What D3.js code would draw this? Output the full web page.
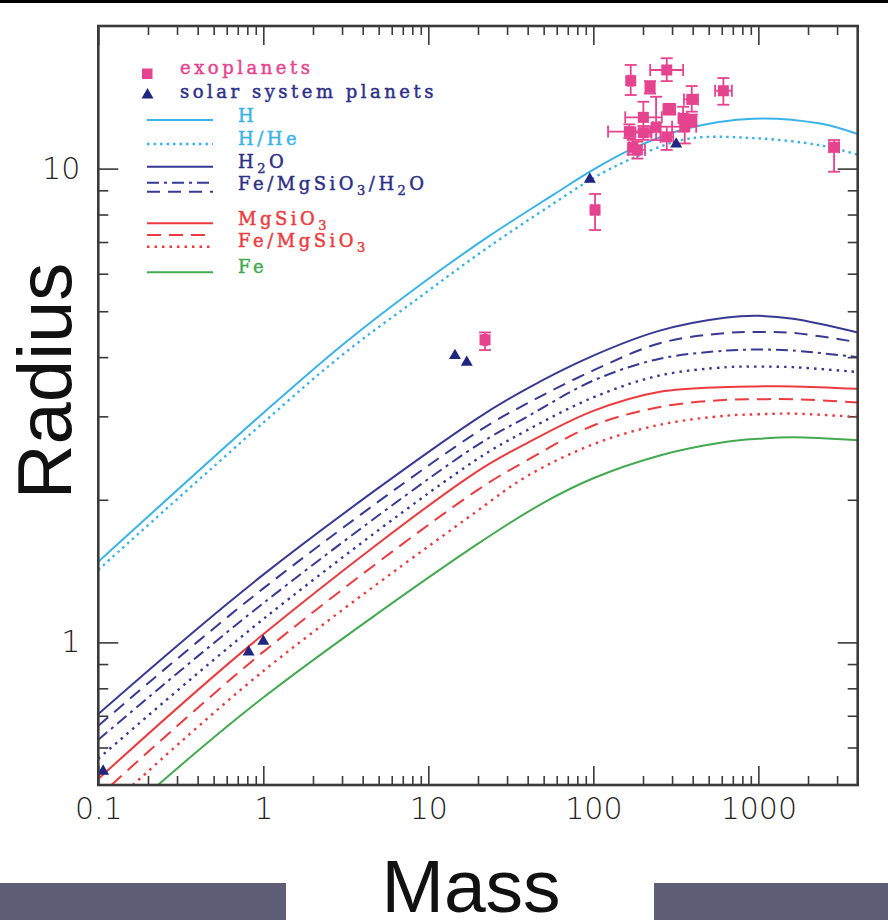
<!DOCTYPE html>
<html><head><meta charset="utf-8">
<script src="https://cdn.jsdelivr.net/npm/d3@7/dist/d3.min.js"></script>
<style>body{margin:0;background:#fff}svg{display:block}</style>
</head><body>
<svg id="chart" width="888" height="920"></svg>
<script>
// ---------- data ----------
const xTickValues = [0.1, 1, 10, 100, 1000];
const xTickLabels = ["0.1", "1", "10", "100", "1000"];
const yTickValues = [1, 10];
const yTickLabels = ["1", "10"];

// theoretical mass–radius curves (mass in Earth masses, radius in Earth radii)
const massH      = [0.1, 1, 3, 8.9, 22.6, 57, 100, 174, 368, 929, 2366, 4000];
const radiusH    = [1.48, 3.05, 4.24, 5.68, 7.15, 8.8, 9.95, 11.03, 12.15, 12.75, 12.45, 11.83];
const massHHe    = [0.1, 1, 3, 8.9, 22.6, 57, 100, 174, 368, 929, 2366, 4000];
const radiusHHe  = [1.423, 2.91, 4.04, 5.36, 6.79, 8.43, 9.55, 10.53, 11.55, 11.6, 11.2, 10.7];

const massRock   = [0.1, 1, 19.2, 39.4, 100, 253, 643, 1000, 1622, 4000];
const radiusH2O            = [0.706, 1.39, 2.95, 3.43, 4.03, 4.55, 4.85, 4.89, 4.82, 4.51];
const radiusFeMgH2Odash    = [0.667, 1.30, 2.76, 3.19, 3.75, 4.28, 4.50, 4.52, 4.50, 4.30];
const radiusFeMgH2Odashdot = [0.623, 1.21, 2.59, 2.99, 3.57, 3.97, 4.13, 4.15, 4.13, 4.00];
const radiusFeMgH2Odot     = [0.568, 1.12, 2.42, 2.80, 3.29, 3.66, 3.81, 3.82, 3.81, 3.72];
const radiusMgSiO3         = [0.515, 1.04, 2.28, 2.63, 3.08, 3.38, 3.46, 3.47, 3.47, 3.43];
const massFeMgDash   = [0.12, 1, 19.2, 39.4, 100, 253, 643, 1000, 1622, 4000];
const radiusFeMgDash = [0.5, 0.955, 2.08, 2.42, 2.87, 3.14, 3.25, 3.26, 3.26, 3.21];
const massFeMgDot    = [0.162, 1, 19.2, 39.4, 100, 253, 643, 1000, 1622, 4000];
const radiusFeMgDot  = [0.5, 0.87, 1.88, 2.24, 2.62, 2.88, 3.01, 3.03, 3.04, 2.99];
const massFe     = [0.23, 1, 19.2, 49.8, 100, 253, 643, 1000, 1622, 4000];
const radiusFe   = [0.5, 0.765, 1.60, 1.97, 2.22, 2.48, 2.65, 2.69, 2.71, 2.67];

// exoplanets with error ranges
const exoMass    = [168.5, 278.5, 220.6, 613.7, 394.8, 288.8, 201, 240, 165.3, 201, 278.5, 349.7, 358, 394.8, 184.8, 173.3, 102.4, 2876, 22.06];
const exoMassLo  = [163, 221, 208, 547, 354, 266, 156, 230, 122.8, 180, 255, 330, 300, 370, 163, 165, 98, 2682, 21.5];
const exoMassHi  = [174, 350, 234, 691, 431, 313, 260, 250, 220.6, 225, 305, 370, 420, 420, 205.7, 182, 107, 3084, 22.6];
const exoRadius  = [15.33, 16.15, 14.85, 14.6, 14.0, 13.34, 12.83, 12.23, 11.97, 11.91, 11.67, 12.77, 12.26, 12.66, 10.95, 11.09, 8.18, 11.09, 4.35];
const exoRadLo   = [14.3, 15.3, 14.4, 13.64, 13.19, 13.0, 12.06, 11.49, 11.6, 11.5, 10.95, 11.97, 11.3, 12.3, 10.5, 10.7, 7.42, 9.85, 4.14];
const exoRadHi   = [16.55, 17.1, 15.3, 15.53, 14.94, 13.7, 13.84, 14.18, 12.4, 12.3, 12.26, 13.51, 13.0, 13.0, 11.4, 11.5, 8.84, 11.49, 4.51];

// solar system planets: Mars, Venus, Earth, Uranus, Neptune, Saturn, Jupiter
const solarMass   = [0.107, 0.815, 1, 14.5, 17.1, 95.2, 317.8];
const solarRadius = [0.532, 0.949, 1, 4.01, 3.88, 9.45, 11.21];

// ---------- styles ----------
const C = {blue:"#3ab3e8", navy:"#363a92", navyText:"#2d2f88", tri:"#1f2581",
           red:"#ec3b3e", green:"#44aa52", pink:"#e6438f", frame:"#3a3a3a"};

const curves = [
  {m: massH,     r: radiusH,     color: C.blue,  dash: null},
  {m: massHHe,   r: radiusHHe,   color: C.blue,  dash: "2.5,4", w: 2.4},
  {m: massRock,  r: radiusH2O,   color: C.navy,  dash: null},
  {m: massRock,  r: radiusFeMgH2Odash,    color: C.navy, dash: "13,8"},
  {m: massRock,  r: radiusFeMgH2Odashdot, color: C.navy, dash: "12,5,3,5"},
  {m: massRock,  r: radiusFeMgH2Odot,     color: C.navy, dash: "2.5,5", w: 2.4},
  {m: massRock,  r: radiusMgSiO3, color: C.red,  dash: null},
  {m: massFeMgDash, r: radiusFeMgDash, color: C.red, dash: "14,8"},
  {m: massFeMgDot,  r: radiusFeMgDot,  color: C.red, dash: "2.5,5", w: 2.4},
  {m: massFe,    r: radiusFe,    color: C.green, dash: null}
];

// ---------- chart ----------
const svg = d3.select("#chart");
svg.append("rect").attr("width", 888).attr("height", 920).attr("fill", "#fff");
svg.append("rect").attr("x", 0).attr("y", 0).attr("width", 888).attr("height", 3).attr("fill", "#000");

const L = 98.3, R = 857.7, T = 26, B = 785;
const x = d3.scaleLog().domain([0.1, 4000]).range([L, R]);
const y = d3.scaleLog().domain([0.5, 20]).range([B, T]);

svg.append("clipPath").attr("id", "clip").append("rect")
  .attr("x", L).attr("y", T).attr("width", R - L).attr("height", B - T);

const xMinor = [];
[0.1, 1, 10, 100, 1000].forEach(d => { for (let k = 2; k <= 9; k++) { const v = d * k; if (v < 4000) xMinor.push(v); } });
const yMinor = [0.6, 0.7, 0.8, 0.9, 2, 3, 4, 5, 6, 7, 8, 9];

function styleAxis(g) {
  g.select(".domain").remove();
  g.selectAll(".tick line").attr("stroke", C.frame).attr("stroke-width", 1.6);
}
const labFont = {family: "'DejaVu Sans', sans-serif", size: 30, weight: 200, fill: "#222"};

// bottom
svg.append("g").attr("transform", `translate(0,${B})`)
  .call(d3.axisBottom(x).tickValues(xMinor).tickSize(-9).tickFormat("")).call(styleAxis);
svg.append("g").attr("transform", `translate(0,${B})`)
  .call(d3.axisBottom(x).tickValues(xTickValues).tickSize(-19).tickPadding(13)
        .tickFormat((d, i) => xTickLabels[i]))
  .call(styleAxis)
  .call(g => g.selectAll("text").attr("font-family", labFont.family).attr("font-size", labFont.size)
        .attr("font-weight", labFont.weight).attr("fill", labFont.fill));
// top
svg.append("g").attr("transform", `translate(0,${T})`)
  .call(d3.axisTop(x).tickValues(xMinor).tickSize(-9).tickFormat("")).call(styleAxis);
svg.append("g").attr("transform", `translate(0,${T})`)
  .call(d3.axisTop(x).tickValues(xTickValues).tickSize(-19).tickFormat("")).call(styleAxis);
// left
svg.append("g").attr("transform", `translate(${L},0)`)
  .call(d3.axisLeft(y).tickValues(yMinor).tickSize(-10).tickFormat("")).call(styleAxis);
svg.append("g").attr("transform", `translate(${L},0)`)
  .call(d3.axisLeft(y).tickValues(yTickValues).tickSize(-20).tickPadding(18)
        .tickFormat((d, i) => yTickLabels[i]))
  .call(styleAxis)
  .call(g => g.selectAll("text").attr("font-family", labFont.family).attr("font-size", labFont.size)
        .attr("font-weight", labFont.weight).attr("fill", labFont.fill));
// right
svg.append("g").attr("transform", `translate(${R},0)`)
  .call(d3.axisRight(y).tickValues(yMinor).tickSize(-10).tickFormat("")).call(styleAxis);
svg.append("g").attr("transform", `translate(${R},0)`)
  .call(d3.axisRight(y).tickValues(yTickValues).tickSize(-20).tickFormat("")).call(styleAxis);

// curves
const line = d3.line().x(d => x(d[0])).y(d => y(d[1])).curve(d3.curveCatmullRom.alpha(0.5));
const gCurves = svg.append("g").attr("clip-path", "url(#clip)");
curves.forEach(c => {
  gCurves.append("path")
    .attr("d", line(c.m.map((m, i) => [m, c.r[i]])))
    .attr("fill", "none").attr("stroke", c.color).attr("stroke-width", c.w || 2)
    .attr("stroke-dasharray", c.dash);
});

// exoplanets
const gExo = svg.append("g").attr("stroke", C.pink).attr("stroke-width", 1.8);
const cap = 6;
exoMass.forEach((m, i) => {
  const cx = x(m), cy = y(exoRadius[i]);
  const y1 = y(exoRadHi[i]), y2 = y(exoRadLo[i]);
  const x1 = x(exoMassLo[i]), x2 = x(exoMassHi[i]);
  gExo.append("line").attr("x1", cx).attr("x2", cx).attr("y1", y1).attr("y2", y2);
  gExo.append("line").attr("x1", cx - cap).attr("x2", cx + cap).attr("y1", y1).attr("y2", y1);
  gExo.append("line").attr("x1", cx - cap).attr("x2", cx + cap).attr("y1", y2).attr("y2", y2);
  gExo.append("line").attr("x1", x1).attr("x2", x2).attr("y1", cy).attr("y2", cy);
  gExo.append("line").attr("x1", x1).attr("x2", x1).attr("y1", cy - cap).attr("y2", cy + cap);
  gExo.append("line").attr("x1", x2).attr("x2", x2).attr("y1", cy - cap).attr("y2", cy + cap);
});
svg.append("g").selectAll("rect").data(exoMass).join("rect")
  .attr("x", (m) => x(m) - 5.5).attr("y", (m, i) => y(exoRadius[i]) - 5.5)
  .attr("width", 11).attr("height", 11).attr("fill", C.pink);

// solar system planets
const tri = d3.symbol().type(d3.symbolTriangle).size(62);
svg.append("g").selectAll("path").data(solarMass).join("path")
  .attr("d", tri).attr("fill", C.tri)
  .attr("transform", (m, i) => `translate(${x(m)},${y(solarRadius[i]) - 1})`);

// frame
svg.append("rect").attr("x", L).attr("y", T).attr("width", R - L).attr("height", B - T)
  .attr("fill", "none").attr("stroke", C.frame).attr("stroke-width", 2.6);

// legend
const lg = svg.append("g").attr("font-family", "'DejaVu Serif', serif").attr("font-size", 18)
  .attr("letter-spacing", "3.5px").attr("stroke-width", 0.45);
lg.append("rect").attr("x", 142).attr("y", 68.5).attr("width", 10.5).attr("height", 10.5).attr("fill", C.pink);
lg.append("text").attr("x", 180).attr("y", 74).attr("fill", C.pink).attr("stroke", C.pink).text("exoplanets");
lg.append("path").attr("d", tri).attr("fill", C.tri).attr("transform", "translate(147.5,95)");
lg.append("text").attr("x", 180).attr("y", 98).attr("fill", C.navyText).attr("stroke", C.navyText).text("solar system planets");

const legLines = [
  {y: 120,   color: C.blue,  dash: null},
  {y: 144,   color: C.blue,  dash: "2.5,4", w: 2.4},
  {y: 166.7, color: C.navy,  dash: null},
  {y: 182.7, color: C.navy,  dash: "12,5,3,5"},
  {y: 191.7, color: C.navy,  dash: "13,8"},
  {y: 223.3, color: C.red,   dash: null},
  {y: 235,   color: C.red,   dash: "14,8"},
  {y: 246.7, color: C.red,   dash: "2.5,5", w: 2.4},
  {y: 272.3, color: C.green, dash: null}
];
legLines.forEach(l => lg.append("line").attr("x1", 147).attr("x2", 213).attr("y1", l.y).attr("y2", l.y)
  .attr("stroke", l.color).attr("stroke-width", l.w || 2).attr("stroke-dasharray", l.dash));

function legText(yb, color, parts) {
  const t = lg.append("text").attr("x", 238).attr("y", yb).attr("fill", color).attr("stroke", color);
  let shifted = false;
  parts.forEach(p => {
    const sub = typeof p !== "string";
    const s = t.append("tspan").text(sub ? p.sub : p);
    if (sub && !shifted) { s.attr("dy", 5).attr("font-size", 13); shifted = true; }
    else if (!sub && shifted) { s.attr("dy", -5); shifted = false; }
    else if (sub) s.attr("font-size", 13);
  });
}
legText(121.7, C.blue, ["H"]);
legText(145, C.blue, ["H/He"]);
legText(168.3, C.navyText, ["H", {sub: "2"}, "O"]);
legText(190, C.navyText, ["Fe/MgSiO", {sub: "3"}, "/H", {sub: "2"}, "O"]);
legText(225, C.red, ["MgSiO", {sub: "3"}]);
legText(246.7, C.red, ["Fe/MgSiO", {sub: "3"}]);
legText(273.3, C.green, ["Fe"]);

// bottom gray bars
svg.append("rect").attr("x", 0).attr("y", 883).attr("width", 286).attr("height", 37).attr("fill", "#5f5e78");
svg.append("rect").attr("x", 654).attr("y", 883).attr("width", 234).attr("height", 37).attr("fill", "#5f5e78");

// axis titles
svg.append("text").attr("x", 471).attr("y", 912).attr("text-anchor", "middle")
  .attr("font-family", "'Liberation Sans', Arial, sans-serif").attr("font-size", 75).attr("fill", "#111")
  .text("Mass");
svg.append("text").attr("transform", "translate(71,381) rotate(-90)").attr("text-anchor", "middle")
  .attr("font-family", "'Liberation Sans', Arial, sans-serif").attr("font-size", 76).attr("fill", "#111")
  .text("Radius");
</script>
</body></html>
